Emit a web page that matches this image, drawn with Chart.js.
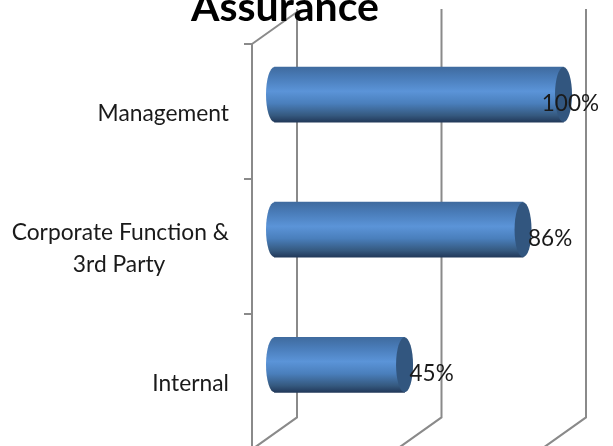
<!DOCTYPE html>
<html>
<head>
<meta charset="utf-8">
<style>
  html, body { margin: 0; padding: 0; background: #fff; overflow: hidden; width: 613px; height: 446px; }
  canvas { display: block; }
</style>
<script src="https://cdn.jsdelivr.net/npm/chart.js@4"></script>
</head>
<body>
<canvas id="chart" width="613" height="480"></canvas>
<script>
const categories = ["Management", ["Corporate Function &", "3rd Party"], "Internal"];
const values = [100, 86, 45];
const axisTicks = [0, 50, 100];
const titleText = "Assurance";

const FONT = "Lato, 'Open Sans', sans-serif";
const GRID = "#8a8a8a";
const DEPTH_X = 45, DEPTH_Y = 32;
const BAR_H = 55, CAP_RX = 8.5;

// Paints a bar body with the banded shading of a cylinder.
function barShade(ctx) {
  const chart = ctx.chart;
  if (!chart.chartArea) return "#4f81bd";
  const cy = chart.scales.y.getPixelForValue(ctx.dataIndex);
  const g = chart.ctx.createLinearGradient(0, cy - BAR_H / 2, 0, cy + BAR_H / 2);
  g.addColorStop(0, "#3f6b9f");
  g.addColorStop(0.2, "#4a7dba");
  g.addColorStop(0.44, "#5b94d8");
  g.addColorStop(0.66, "#4a7fbc");
  g.addColorStop(0.88, "#35597f");
  g.addColorStop(1, "#22395a");
  return g;
}

// Draws the walls, floor lines, cylinder ends, value labels and title.
const cylinderPlugin = {
  id: "cylinder",
  beforeDatasetsDraw(chart) {
    const { ctx, scales: { x, y }, chartArea: a } = chart;
    ctx.save();
    ctx.strokeStyle = GRID;
    ctx.lineWidth = 2;
    axisTicks.forEach(v => {
      const px = x.getPixelForValue(v);
      ctx.beginPath();
      ctx.moveTo(px, a.bottom);
      ctx.lineTo(px + DEPTH_X, a.bottom - DEPTH_Y);
      ctx.lineTo(px + DEPTH_X, a.top - DEPTH_Y - 3);
      ctx.stroke();
    });
    ctx.beginPath();
    ctx.moveTo(a.left, a.top);
    ctx.lineTo(a.left + DEPTH_X, a.top - DEPTH_Y);
    ctx.stroke();
    ctx.restore();

    // Bars sit halfway into the depth of the plot.
    ctx.save();
    ctx.translate(DEPTH_X / 2, -DEPTH_Y / 2 - 1);
    chart.getDatasetMeta(0).data.forEach((bar, i) => {
      ctx.fillStyle = barShade({ chart, dataIndex: i });
      ctx.beginPath();
      ctx.ellipse(bar.base, bar.y, CAP_RX, BAR_H / 2, 0, 0, Math.PI * 2);
      ctx.fill();
    });
  },
  afterDatasetsDraw(chart) {
    const { ctx } = chart;
    const bars = chart.getDatasetMeta(0).data;
    bars.forEach(bar => {
      ctx.fillStyle = "#32567f";
      ctx.beginPath();
      ctx.ellipse(bar.x, bar.y, CAP_RX, BAR_H / 2, 0, 0, Math.PI * 2);
      ctx.fill();
    });
    ctx.restore();

    ctx.save();
    ctx.font = "22.5px " + FONT;
    ctx.fillStyle = "#1a1a1a";
    ctx.textBaseline = "middle";
    bars.forEach((bar, i) => {
      const text = values[i] + "%";
      const w = ctx.measureText(text).width;
      const left = Math.min(bar.x + DEPTH_X / 2 + 5, 599 - w);
      ctx.fillText(text, left, bar.y - DEPTH_Y / 2 - 1 + 9);
    });
    ctx.restore();
  },
  afterDraw(chart) {
    const { ctx } = chart;
    ctx.save();
    ctx.font = "bold 41px " + FONT;
    ctx.fillStyle = "#000";
    ctx.textAlign = "center";
    ctx.textBaseline = "alphabetic";
    ctx.fillText(titleText, 285, 21);
    ctx.restore();
  }
};

new Chart(document.getElementById("chart"), {
  type: "bar",
  data: {
    labels: categories,
    datasets: [{
      data: values,
      backgroundColor: barShade,
      borderWidth: 0,
      barThickness: BAR_H,
      clip: false
    }]
  },
  options: {
    indexAxis: "y",
    responsive: false,
    animation: false,
    layout: { padding: { top: 44, right: 72, bottom: 1, left: 0 } },
    plugins: { legend: { display: false }, tooltip: { enabled: false } },
    scales: {
      x: {
        display: false,
        min: 0,
        max: 100,
        afterBuildTicks(scale) { scale.ticks = axisTicks.map(value => ({ value })); }
      },
      y: {
        grid: {
          drawOnChartArea: false,
          color: GRID,
          lineWidth: 2,
          tickLength: 8
        },
        border: { color: GRID, width: 2 },
        afterFit(scale) { scale.width = 252; },
        ticks: {
          padding: 15,
          labelOffset: 2,
          color: "#1a1a1a",
          font: { family: FONT, size: 22.8, lineHeight: 1.37 },
          // The second line of a two-line label sits centred under the first.
          callback(value) {
            const label = this.getLabelForValue(value);
            return Array.isArray(label)
              ? [label[0], label[1] + "\u00a0".repeat(11)]
              : label;
          }
        }
      }
    }
  },
  plugins: [cylinderPlugin]
});
</script>
</body>
</html>
